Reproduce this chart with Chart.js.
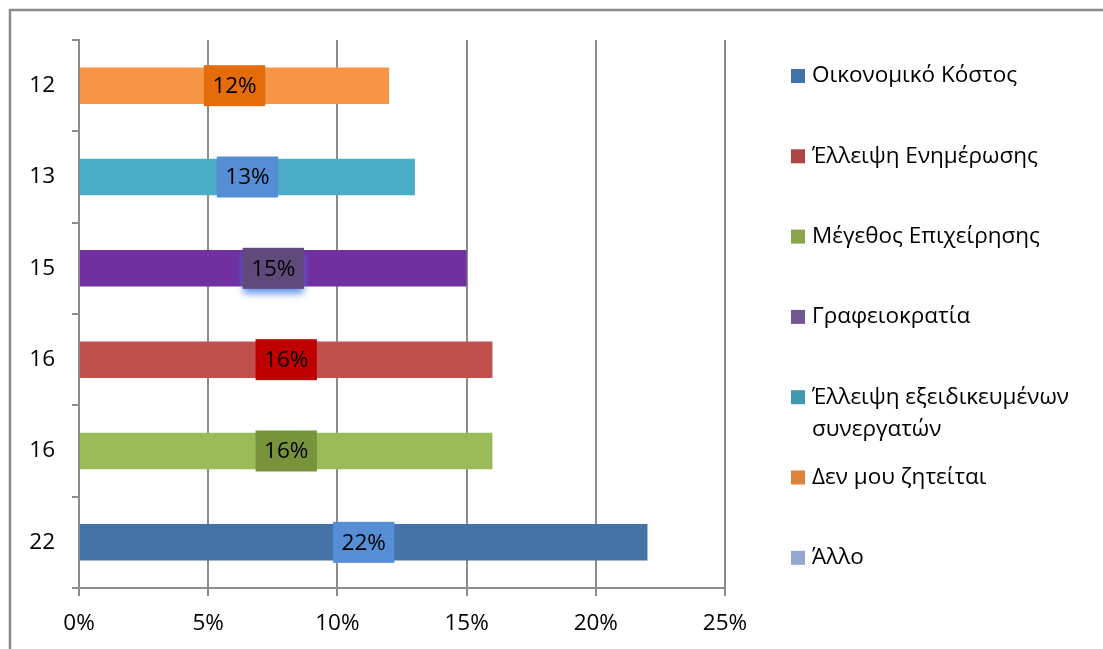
<!DOCTYPE html>
<html>
<head>
<meta charset="utf-8">
<style>
  html, body { margin: 0; padding: 0; background: #ffffff; }
  #wrap { width: 1103px; height: 649px; position: relative; }
</style>
<script src="https://cdn.jsdelivr.net/npm/chart.js@4.4.1/dist/chart.umd.min.js"></script>
</head>
<body>
<div id="wrap"><canvas id="chart" width="1103" height="649"></canvas></div>
<script>
// Rows from top to bottom
const categories = ['12', '13', '15', '16', '16', '22'];
const values = [12, 13, 15, 16, 16, 22];
const barColors = ['#F79646', '#4BACC6', '#7030A0', '#C0504D', '#9BBB59', '#4572A7'];
const valueBoxColors = ['#E46C0A', '#558ED5', '#604A7B', '#C00000', '#77933C', '#558ED5'];

// Legend entries (series names and their swatch colours)
const legendNames = [
  'Οικονομικό Κόστος',
  'Έλλειψη Ενημέρωσης',
  'Μέγεθος Επιχείρησης',
  'Γραφειοκρατία',
  ['Έλλειψη εξειδικευμένων', 'συνεργατών'],
  'Δεν μου ζητείται',
  'Άλλο'
];
const legendColors = ['#4572A7', '#AA4643', '#89A54E', '#71588F', '#4198AF', '#DB843D', '#93A9CF'];

// x-axis ticks
const xTicks = [0, 5, 10, 15, 20, 25];

const FONT = '"Open Sans", "Noto Sans", sans-serif';
const FONT_SIZE = 22.5;
const GRID = '#8c8c8c';

// Outer frame of the chart
const framePlugin = {
  id: 'frame',
  beforeDraw(chart) {
    const ctx = chart.ctx;
    ctx.save();
    ctx.strokeStyle = '#8a8a8a';
    ctx.lineWidth = 2.5;
    ctx.strokeRect(10, 10, chart.width + 40, chart.height + 40);
    ctx.restore();
  }
};

// Value labels: dark box centered on each bar
const valueBoxPlugin = {
  id: 'valueBoxes',
  afterDatasetsDraw(chart) {
    const ctx = chart.ctx;
    const meta = chart.getDatasetMeta(0);
    ctx.save();
    ctx.font = FONT_SIZE + 'px ' + FONT;
    ctx.textAlign = 'center';
    ctx.textBaseline = 'middle';
    meta.data.forEach((bar, i) => {
      const text = values[i] + '%';
      const cx = (bar.x + bar.base) / 2;
      const cy = bar.y;
      const w = ctx.measureText(text).width + 17;
      const h = 41;
      ctx.save();
      if (i === 2) {
        ctx.shadowColor = 'rgba(70,130,230,0.85)';
        ctx.shadowBlur = 7;
        ctx.shadowOffsetY = 5;
      }
      ctx.fillStyle = valueBoxColors[i];
      ctx.fillRect(cx - w / 2, cy - h / 2, w, h);
      ctx.restore();
      ctx.fillStyle = '#000000';
      ctx.fillText(text, cx, cy + 1);
    });
    ctx.restore();
  }
};

// Legend on the right
const sideLegendPlugin = {
  id: 'sideLegend',
  afterDraw(chart) {
    const ctx = chart.ctx;
    const top = chart.chartArea.top;
    const x0 = chart.chartArea.right + 66;
    const step = 80.3;
    ctx.save();
    ctx.font = FONT_SIZE + 'px ' + FONT;
    ctx.textAlign = 'left';
    ctx.textBaseline = 'middle';
    legendNames.forEach((name, i) => {
      const y = top + 36 + i * step;
      ctx.fillStyle = legendColors[i];
      ctx.fillRect(x0, y - 7, 14, 14);
      ctx.fillStyle = '#000000';
      const lines = Array.isArray(name) ? name : [name];
      lines.forEach((line, j) => ctx.fillText(line, x0 + 21, y + j * 32));
    });
    ctx.restore();
  }
};

new Chart(document.getElementById('chart'), {
  type: 'bar',
  data: {
    labels: categories,
    datasets: [{
      data: values,
      backgroundColor: barColors,
      borderWidth: 0,
      categoryPercentage: 1,
      barPercentage: 0.4
    }]
  },
  options: {
    indexAxis: 'y',
    responsive: false,
    animation: false,
    devicePixelRatio: 1,
    layout: { padding: { top: 40, right: 378, bottom: 0, left: 0 } },
    plugins: {
      legend: { display: false },
      tooltip: { enabled: false }
    },
    scales: {
      x: {
        min: 0,
        max: 25,
        afterBuildTicks(scale) {
          scale.ticks = xTicks.map(v => ({ value: v }));
        },
        afterFit(scale) { scale.height = 61; },
        ticks: {
          color: '#000000',
          padding: 14,
          font: { family: FONT, size: FONT_SIZE },
          callback: v => v + '%'
        },
        grid: { color: GRID, lineWidth: 2, tickLength: 8, tickColor: GRID },
        border: { color: GRID, width: 2 }
      },
      y: {
        afterFit(scale) { scale.width = 79; },
        ticks: {
          color: '#000000',
          padding: 17,
          font: { family: FONT, size: FONT_SIZE }
        },
        grid: { drawOnChartArea: false, offset: true, color: GRID, lineWidth: 2, tickLength: 7 },
        border: { color: GRID, width: 2 }
      }
    }
  },
  plugins: [framePlugin, valueBoxPlugin, sideLegendPlugin]
});
</script>
</body>
</html>
